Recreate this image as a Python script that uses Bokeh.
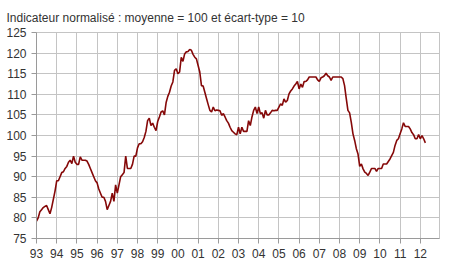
from bokeh.plotting import figure
from bokeh.models import FixedTicker, Range1d
from bokeh.embed import file_html
from bokeh.resources import INLINE

title_text = "Indicateur normalisé : moyenne  = 100 et écart-type = 10"

start_year = 1993
# monthly values, Jan 1993 -> Apr 2012
v1993 = [79.2, 80.0, 81.5, 82.0, 82.5, 82.8, 83.0, 82.0, 81.0, 82.5, 84.5, 86.5]
v1994 = [89.0, 89.0, 90.0, 91.0, 91.2, 92.0, 92.5, 93.5, 94.0, 93.2, 95.0, 93.5]
v1995 = [93.0, 93.0, 94.8, 94.0, 94.0, 94.0, 93.8, 93.0, 92.0, 91.0, 90.0, 89.0]
v1996 = [88.5, 87.0, 86.0, 85.0, 85.0, 84.0, 82.0, 83.0, 84.0, 86.0, 84.0, 88.0]
v1997 = [86.0, 88.0, 90.0, 90.5, 91.0, 95.0, 92.0, 92.0, 92.0, 93.0, 95.0, 95.0]
v1998 = [97.0, 98.0, 98.0, 98.5, 99.5, 101.0, 103.6, 104.2, 102.4, 103.0, 102.0, 101.2]
v1999 = [103.4, 104.5, 105.7, 106.0, 105.0, 108.0, 109.5, 110.5, 112.0, 113.0, 115.8, 116.2]
v2000 = [115.0, 115.4, 119.0, 118.0, 119.8, 120.3, 120.4, 120.9, 120.7, 119.7, 119.0, 118.6]
v2001 = [117.0, 115.4, 112.1, 112.0, 110.5, 109.0, 107.5, 106.1, 105.7, 106.9, 106.0, 106.2]
v2002 = [106.1, 106.0, 104.9, 105.3, 104.5, 103.6, 103.0, 102.0, 101.2, 100.8, 100.4, 100.2]
v2003 = [102.0, 100.4, 102.0, 101.0, 101.0, 101.0, 103.6, 102.4, 104.5, 106.1, 106.9, 105.3]
v2004 = [106.9, 105.3, 105.5, 104.2, 106.1, 105.0, 105.0, 105.5, 106.1, 106.0, 106.1, 106.1]
v2005 = [106.9, 107.7, 107.3, 108.9, 108.1, 108.5, 110.1, 110.8, 111.3, 112.0, 112.5, 113.1]
v2006 = [111.3, 112.5, 111.7, 113.1, 113.1, 113.5, 114.2, 114.2, 114.2, 114.2, 114.2, 113.5]
v2007 = [113.1, 114.0, 114.2, 114.5, 115.1, 114.5, 114.2, 113.4, 114.2, 114.2, 114.2, 114.2]
v2008 = [114.2, 114.2, 113.8, 112.1, 109.0, 106.1, 105.5, 103.2, 100.4, 98.8, 96.8, 95.5]
v2009 = [92.5, 93.1, 91.9, 91.1, 90.8, 90.3, 91.1, 92.0, 92.0, 92.0, 91.3, 92.0]
v2010 = [92.0, 92.0, 93.1, 93.1, 93.1, 93.7, 94.3, 95.1, 95.9, 97.6, 98.8, 99.2]
v2011 = [100.4, 101.6, 103.1, 102.2, 102.2, 102.2, 101.6, 100.7, 100.2, 99.2, 99.2, 100.2]
v2012 = [99.2, 100.0, 99.2, 98.2]

values = (v1993 + v1994 + v1995 + v1996 + v1997 + v1998 + v1999 + v2000 + v2001 + v2002
          + v2003 + v2004 + v2005 + v2006 + v2007 + v2008 + v2009 + v2010 + v2011 + v2012)
dates = [start_year + i / 12 for i in range(len(values))]

year_ticks = list(range(1993, 2013))
year_labels = {y: f"{y % 100:02d}" for y in year_ticks}
y_ticks = [75, 80, 85, 90, 95, 100, 105, 110, 115, 120, 125]

TEXT = "#333333"
GRID = "#c4c4c4"
AXIS = "#9a9a9a"
FONT = "Liberation Sans"

p = figure(width=450, height=279, output_backend="svg", toolbar_location=None,
           x_range=Range1d(1993, 2012.95), y_range=Range1d(75, 125),
           min_border_left=36, min_border_right=11, min_border_top=32, min_border_bottom=41)

p.title.text = title_text
p.title.text_font = FONT
p.title.text_font_size = "12px"
p.title.text_font_style = "normal"
p.title.text_color = TEXT
p.title.align = "left"
p.title.offset = -30
p.title.standoff = 15

p.line(dates, values, line_color="#850808", line_width=1.6)

p.xaxis.ticker = FixedTicker(ticks=year_ticks)
p.xaxis.major_label_overrides = year_labels
p.yaxis.ticker = FixedTicker(ticks=y_ticks)

for ax in (p.xaxis, p.yaxis):
    ax.axis_line_color = AXIS
    ax.major_tick_line_color = AXIS
    ax.minor_tick_line_color = None
    ax.major_tick_in = 0
    ax.major_tick_out = 5
    ax.major_label_standoff = 5
    ax.major_label_text_font = FONT
    ax.major_label_text_font_size = "12px"
    ax.major_label_text_color = TEXT

p.xgrid.grid_line_color = GRID
p.ygrid.grid_line_color = GRID
p.outline_line_color = GRID
p.background_fill_color = "white"
p.border_fill_color = "white"

open("out.html", "w").write(file_html(p, INLINE))
